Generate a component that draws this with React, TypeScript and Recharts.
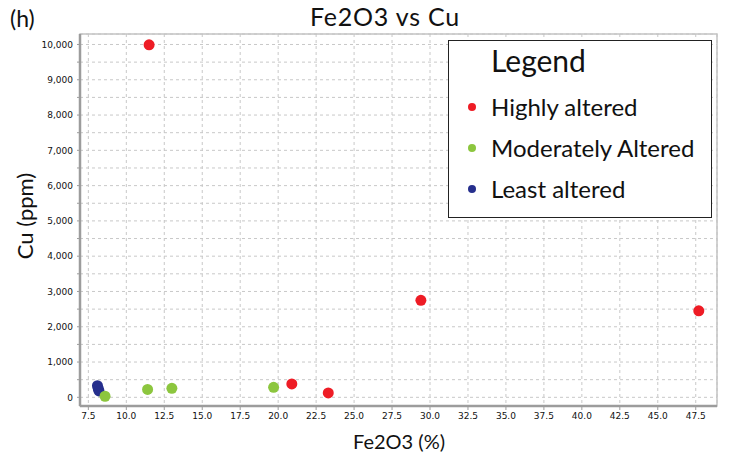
import React from "react";
import {
  ScatterChart,
  Scatter,
  XAxis,
  YAxis,
  CartesianGrid,
  ReferenceArea,
  Label,
} from "recharts";

document.body.style.margin = "0";

// Highly altered samples
const highlyFe = [11.5, 20.9, 23.3, 29.4, 47.7];
const highlyCu = [9990, 380, 125, 2750, 2450];
// Moderately altered samples
const moderateFe = [8.6, 11.4, 13.0, 19.7];
const moderateCu = [30, 225, 255, 285];
// Least altered samples
const leastFe = [8.1, 8.15, 8.2];
const leastCu = [330, 250, 180];

const xTicks = [7.5, 10, 12.5, 15, 17.5, 20, 22.5, 25, 27.5, 30, 32.5, 35, 37.5, 40, 42.5, 45, 47.5];
const yTicks = [
  0, 500, 1000, 1500, 2000, 2500, 3000, 3500, 4000, 4500, 5000,
  5500, 6000, 6500, 7000, 7500, 8000, 8500, 9000, 9500, 10000,
];

const xDomain = [6.95, 48.9];
const yDomain = [-246, 10297];

const series = [
  { name: "Highly altered", color: "#ee1c25", fe: highlyFe, cu: highlyCu },
  { name: "Moderately Altered", color: "#8cc63e", fe: moderateFe, cu: moderateCu },
  { name: "Least altered", color: "#262f8d", fe: leastFe, cu: leastCu },
];

const toPoints = (fe: number[], cu: number[]) => fe.map((x, i) => ({ x, y: cu[i] }));

const FONT = "Lato, 'Open Sans', sans-serif";
const TICK_FONT = "'DejaVu Sans', Verdana, sans-serif";

const Dot = (color: string) => (props: any) =>
  <circle cx={props.cx} cy={props.cy} r={5.5} fill={color} />;

const LegendBox = () => (
  <div
    style={{
      position: "absolute",
      left: 448,
      top: 40,
      width: 264,
      height: 178,
      border: "1.5px solid #222",
      background: "#fff",
      fontFamily: FONT,
      color: "#111",
      boxSizing: "border-box",
    }}
  >
    <div style={{ position: "absolute", left: 42, top: 1, fontSize: 30 }}>Legend</div>
    {series.map((s, i) => (
      <div
        key={s.name}
        style={{ position: "absolute", left: 19, top: 51 + i * 41, display: "flex", alignItems: "center" }}
      >
        <span
          style={{ width: 8, height: 8, borderRadius: 4, background: s.color, display: "inline-block" }}
        />
        <span style={{ marginLeft: 15, fontSize: 24 }}>{s.name}</span>
      </div>
    ))}
  </div>
);

export default function App() {
  return (
    <div style={{ position: "relative", width: 729, height: 459, background: "#fff" }}>
      <ScatterChart width={729} height={459} margin={{ top: 34, right: 12, left: 0, bottom: 0 }}>
        <CartesianGrid stroke="#c8c8c8" strokeDasharray="3 3" />
        <ReferenceArea
          x1={xDomain[0]}
          x2={xDomain[1]}
          y1={yDomain[0]}
          y2={yDomain[1]}
          fill="none"
          stroke="#c4c4c4"
          strokeWidth={1.5}
          fillOpacity={0}
          ifOverflow="visible"
        />
        <XAxis
          type="number"
          dataKey="x"
          domain={xDomain}
          ticks={xTicks}
          allowDataOverflow
          height={53}
          tickSize={4}
          tickMargin={3}
          axisLine={{ stroke: "#9c9c9c", strokeWidth: 2.5 }}
          tickLine={{ stroke: "#9c9c9c" }}
          tickFormatter={(v: number) => v.toFixed(1)}
          tick={{ fontSize: 9, fill: "#111", fontFamily: TICK_FONT }}
        >
          <Label
            content={() => (
              <g>
                <text x={399} y={449} textAnchor="middle" fontSize={20} fontFamily={FONT} fill="#111">
                  Fe2O3 (%)
                </text>
                <text
                  x={385}
                  y={26}
                  textAnchor="middle"
                  fontSize={25}
                  letterSpacing={0.8}
                  fontFamily={FONT}
                  fill="#111"
                >
                  Fe2O3 vs Cu
                </text>
                <text x={10} y={27} fontSize={23} fontFamily={FONT} fill="#111">
                  (h)
                </text>
              </g>
            )}
          />
        </XAxis>
        <YAxis
          type="number"
          dataKey="y"
          domain={yDomain}
          ticks={yTicks}
          allowDataOverflow
          width={80}
          tickSize={3}
          tickMargin={4}
          axisLine={{ stroke: "#9c9c9c", strokeWidth: 2.5 }}
          tickLine={{ stroke: "#9c9c9c" }}
          tickFormatter={(v: number) => (v % 1000 === 0 ? v.toLocaleString("en-US") : "")}
          tick={{ fontSize: 9, fill: "#111", fontFamily: TICK_FONT }}
        >
          <Label
            content={() => (
              <text
                x={33}
                y={216}
                transform="rotate(-90 33 216)"
                textAnchor="middle"
                fontSize={22}
                fontFamily={FONT}
                fill="#111"
              >
                Cu (ppm)
              </text>
            )}
          />
        </YAxis>
        {[...series].reverse().map((s) => (
          <Scatter
            key={s.name}
            name={s.name}
            data={toPoints(s.fe, s.cu)}
            fill={s.color}
            shape={Dot(s.color)}
            isAnimationActive={false}
          />
        ))}
      </ScatterChart>
      <LegendBox />
    </div>
  );
}
